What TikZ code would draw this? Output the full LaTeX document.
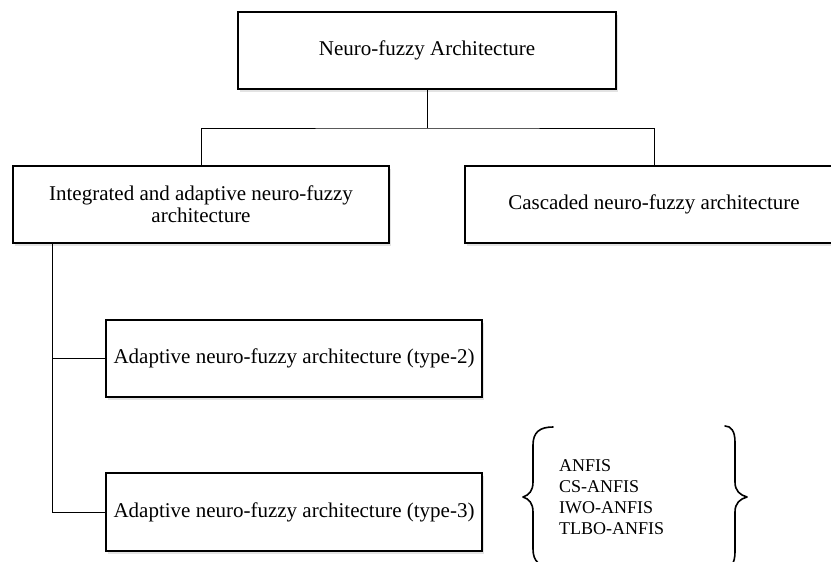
\documentclass[tikz,border=0pt]{standalone}
\usepackage{fontspec}
\setmainfont{Liberation Serif}
\usetikzlibrary{shadows}

\tikzset{
  archbox/.style={
    draw=black, line width=2.2pt, fill=white, rectangle,
    inner sep=0pt, align=center,
    font=\fontsize{21}{22}\selectfont,
    drop shadow={opacity=0.22, shadow xshift=1.5pt, shadow yshift=-2.5pt}
  },
  link/.style={draw=black, line width=0.9pt},
  bracepath/.style={draw=black, line width=1.6pt, line cap=round, line join=round},
  listtext/.style={align=left, inner sep=0pt, anchor=west,
    font=\fontsize{18}{21}\selectfont}
}

\begin{document}
\begin{tikzpicture}[x=1pt, y=-1pt]
  \useasboundingbox (0,0) rectangle (831,562);

  % Boxes of the hierarchy
  \node[archbox, minimum width=378pt, minimum height=77pt] (top) at (427,50.5)
    {Neuro-fuzzy Architecture};
  \node[archbox, minimum width=376pt, minimum height=77pt] (integ) at (201,204.5)
    {Integrated and adaptive neuro-fuzzy\\architecture};
  \node[archbox, minimum width=378pt, minimum height=77pt] (casc) at (654,204.5)
    {Cascaded neuro-fuzzy architecture};
  \node[archbox, minimum width=376pt, minimum height=77pt] (typetwo) at (294,358.5)
    {Adaptive neuro-fuzzy architecture (type-2)};
  \node[archbox, minimum width=376pt, minimum height=78pt] (typethree) at (294,512)
    {Adaptive neuro-fuzzy architecture (type-3)};

  % Connectors
  \coordinate (bus) at (427,128);
  \coordinate (trunk) at (52,243);
  \draw[link] (top.south) -- (bus);
  \draw[link] (integ.north) |- (bus) -| (casc.north);
  \draw[link] (trunk) |- (typethree.west);
  \draw[link] (trunk |- typetwo.west) -- (typetwo.west);

  % Variants listed between braces
  \node[listtext] (variants) at (559,497)
    {ANFIS\\CS-ANFIS\\IWO-ANFIS\\TLBO-ANFIS};

  \draw[bracepath] (553,427) .. controls (540,427) and (533,432) .. (533,445)
    -- (533,482) .. controls (533,491) and (529,495) .. (523,497)
    .. controls (529,499) and (533,503) .. (533,512)
    -- (533,549) .. controls (533,562) and (540,567) .. (553,567);
  \draw[bracepath] (725,426) .. controls (731,426) and (735,431) .. (735,442)
    -- (735,482) .. controls (735,491) and (740,495) .. (747,497)
    .. controls (740,499) and (735,503) .. (735,512)
    -- (735,552) .. controls (735,563) and (731,568) .. (725,568);
\end{tikzpicture}
\end{document}
